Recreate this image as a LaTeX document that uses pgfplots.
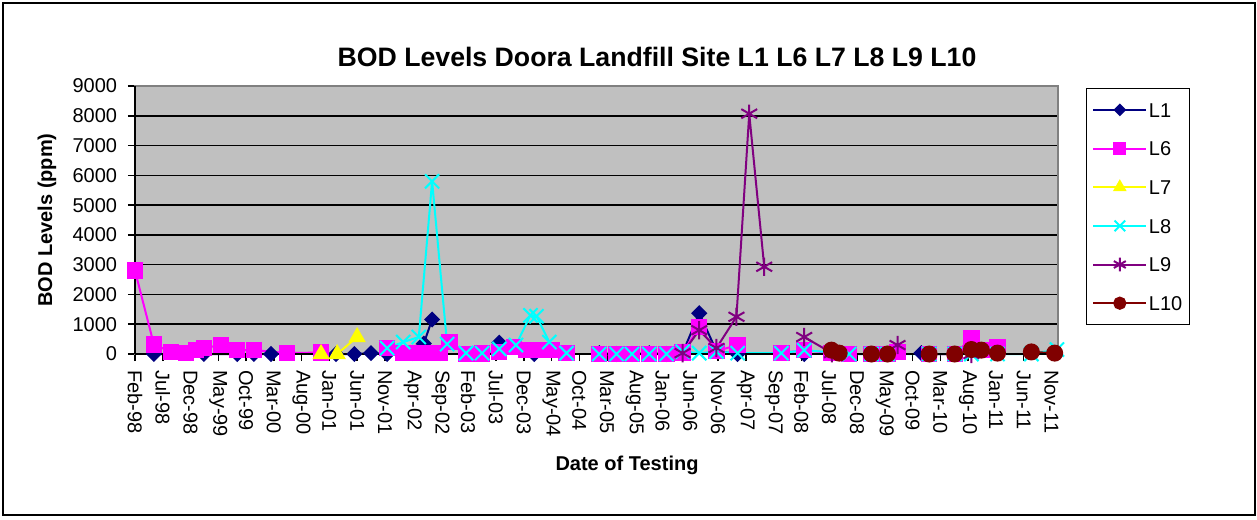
\documentclass[border=0pt]{standalone}
\usepackage{fontspec}
\setmainfont{Liberation Sans}
\usepackage{pgfplots}
\pgfplotsset{compat=1.18}

\definecolor{plotbg}{HTML}{C0C0C0}
\definecolor{cL1}{HTML}{000080}
\definecolor{cL6}{HTML}{FF00FF}
\definecolor{cL7}{HTML}{FFFF00}
\definecolor{cL8}{HTML}{00FFFF}
\definecolor{cL9}{HTML}{800080}
\definecolor{cL10}{HTML}{800000}

\begin{document}
\begin{tikzpicture}
\path[use as bounding box] (-81pt,212.4pt) rectangle (673.2pt,-99pt);
\draw[black, line width=1.4pt] (-79.2pt,210.6pt) rectangle (672pt,-96.6pt);

\begin{axis}[
    at={(0,0)}, anchor=south west,
    scale only axis,
    width=553.8pt, height=160.8pt,
    xmin=0, xmax=166.2,
    ymin=0, ymax=9000,
    clip=false,
    unbounded coords=jump,
    axis background/.style={fill=plotbg},
    axis line style={draw=gray, line width=1pt},
    ymajorgrids,
    grid style={black, line width=0.9pt},
    ytick={0,1000,...,9000},
    xtick={0,5,...,165},
    xticklabels={Feb-98,Jul-98,Dec-98,May-99,Oct-99,Mar-00,Aug-00,Jan-01,Jun-01,Nov-01,
        Apr-02,Sep-02,Feb-03,Jul-03,Dec-03,May-04,Oct-04,Mar-05,Aug-05,Jan-06,
        Jun-06,Nov-06,Apr-07,Sep-07,Feb-08,Jul-08,Dec-08,May-09,Oct-09,Mar-10,
        Aug-10,Jan-11,Jun-11,Nov-11},
    xtick pos=bottom, ytick pos=left,
    tick align=outside,
    major tick length=4.2pt,
    tick style={black, line width=0.9pt},
    /pgf/number format/assume math mode=true,
    /pgf/number format/1000 sep={},
    ticklabel style={font=\fontsize{12}{14}\selectfont},
    xticklabel style={rotate=-90, anchor=west, xshift=2pt},
    yticklabel style={xshift=-3pt},
    legend style={at={(1.0303,0.9925)}, anchor=north west, draw=black, line width=0.6pt,
        fill=white, font=\fontsize{12}{14}\selectfont,
        row sep=12.6pt, inner xsep=3.5pt, inner ysep=7.5pt,
        nodes={inner sep=1pt, text height=8.6pt, text depth=0pt}},
    legend cell align=left,
    legend image code/.code={\draw[mark repeat=2,mark phase=2,#1]
        plot coordinates {(0pt,0pt) (15.9pt,0pt) (31.8pt,0pt)};},
    legend image post style={every mark/.append style={scale=0.75}},
]
% L1
\addplot[cL1, line width=1.2pt, mark=diamond*, mark size=4pt,
    mark options={xscale=1.33, solid, fill=cL1, draw=cL1}] coordinates {
    (3.4,0) (12.4,0) (18.4,0) (21.4,0) (24.5,0) (30,nan)
    (36.2,0) (39.5,0) (42.5,30) (45.4,0) (52,350) (53.5,1160) (55,nan)
    (65.6,380) (67,nan)
    (71.9,0) (73,nan)
    (83.6,30) (86.7,0) (89.5,0) (92.6,30) (95.7,0) (98.6,30) (101.6,1370)
    (104.7,100) (108.5,0) (112,nan)
    (120.5,0) (122,nan)
    (141.6,30) (143,0)
};
\addlegendentry{L1}
% L6
\addplot[cL6, line width=1.2pt, mark=square*, mark size=4.3pt,
    mark options={solid, fill=cL6, draw=cL6}] coordinates {
    (0,2800) (3.4,320) (6.5,70) (9.2,30) (11,130) (12.4,200) (15.5,300)
    (18.4,130) (21.4,130) (27.4,30) (33.5,50) (40,nan)
    (45.4,200) (48.3,30) (50.8,30) (53,30) (54.8,30) (56.6,400) (59.6,0)
    (62.5,20) (65.6,70) (68.3,230) (70.5,130) (72.5,130) (75,130) (77.7,30) (80,nan)
    (83.6,0) (86.7,0) (89.5,0) (92.6,0) (95.7,0) (98.6,50) (101.6,900)
    (104.7,100) (108.5,300) (112,nan)
    (116.4,30) (120.5,130) (125.4,30) (128.6,0) (132.6,0) (135.5,0) (137.3,70) (140,nan)
    (143,0) (147.6,0) (150.6,530) (152.4,130) (155.3,230)
};
\addlegendentry{L6}
% L7
\addplot[cL7, line width=1.2pt, mark=triangle*, mark size=4.8pt,
    mark options={solid, fill=cL7, draw=cL7}] coordinates {
    (33.5,0) (36.4,0) (40,570)
};
\addlegendentry{L7}
% L8
\addplot[cL8, line width=1.2pt, mark=x, mark size=6pt,
    mark options={solid, line width=1.2pt}] coordinates {
    (45.4,200) (48.3,400) (51.1,570) (53.5,5800) (56.2,330) (59.6,30)
    (62.5,30) (65.6,170) (68.6,300) (71.2,1300) (72.3,1270) (74.6,400) (77.7,30) (80,nan)
    (83.6,0) (86.7,0) (89.5,0) (92.6,0) (95.7,0) (98.6,80) (101.6,30)
    (104.7,80) (108.5,30) (116.4,30) (120.5,130) (128.6,0) (132.6,0)
    (135.5,0) (143,0) (147.6,0) (150.6,0) (155.3,0) (161.4,0) (166,150)
};
\addlegendentry{L8}
% L9
\addplot[cL9, line width=1.2pt, mark=asterisk, mark size=5.5pt,
    mark options={solid, line width=1.2pt}] coordinates {
    (98.6,30) (101.6,800) (104.7,200) (108.3,1250) (110.6,8070) (113.3,2930) (116,nan)
    (120.5,570) (125.5,30) (130,nan)
    (137.3,300) (140,nan)
    (150.6,0)
};
\addlegendentry{L9}
% L10
\addplot[cL10, line width=1.2pt, mark=*, mark size=4.5pt,
    mark options={solid, fill=cL10, draw=cL10}] coordinates {
    (125.4,130) (126.8,30) (129,nan)
    (132.6,0) (135.5,0) (139,nan)
    (143,0) (147.6,0) (150.6,150) (152.4,130) (155.3,30) (158,nan)
    (161.4,70) (165.6,30)
};
\addlegendentry{L10}

\draw[black, line width=1pt] (rel axis cs:0,0) -- (rel axis cs:0,1);
\draw[black, line width=1pt] (rel axis cs:0,0) -- (rel axis cs:1,0);
\end{axis}

\node[font=\fontsize{16}{19}\selectfont\bfseries] at (313.2pt,178.2pt)
    {BOD Levels Doora Landfill Site L1 L6 L7 L8 L9 L10};
\node[font=\fontsize{12}{14}\selectfont\bfseries, rotate=90] at (-52.8pt,80.4pt)
    {BOD Levels (ppm)};
\node[font=\fontsize{12}{14}\selectfont\bfseries] at (295.2pt,-66.6pt)
    {Date of Testing};
\end{tikzpicture}
\end{document}
